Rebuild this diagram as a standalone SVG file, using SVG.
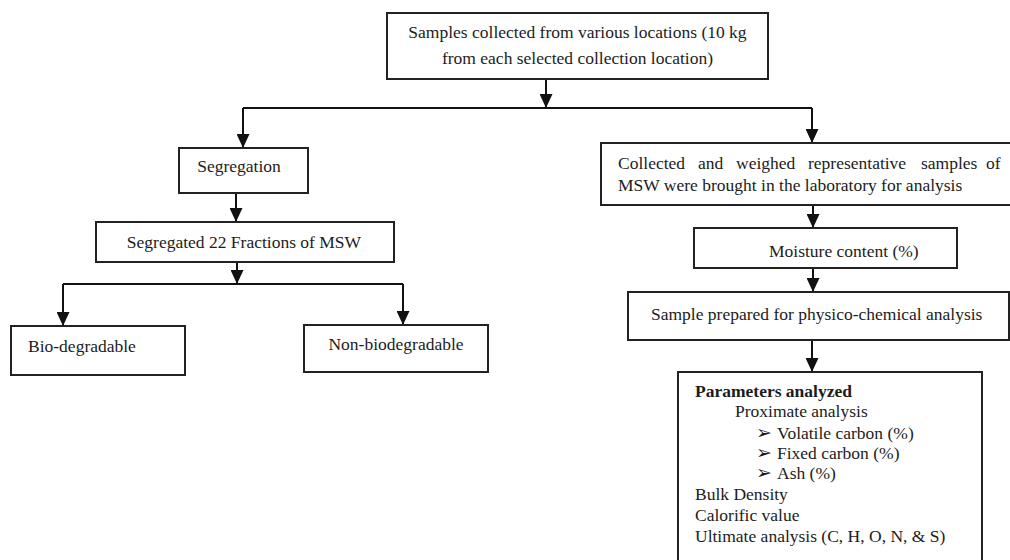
<svg xmlns="http://www.w3.org/2000/svg" width="1010" height="560" viewBox="0 0 1010 560">
  <defs>
    <marker id="arrow" markerUnits="userSpaceOnUse" markerWidth="14" markerHeight="13" refX="14" refY="6.5" orient="auto" viewBox="0 0 14 13">
      <path d="M0,0 L14,6.5 L0,13 z" fill="#111"/>
    </marker>
    <style>
      .box { fill: #fff; stroke: #222; stroke-width: 2; }
      .lbl { font-size: 17.5px; fill: #1c1c1c; }
      .bold { font-weight: bold; }
      .mid { text-anchor: middle; }
      .bullet { font-size: 19px; fill: #1c1c1c; }
      .conn { fill: none; stroke: #111; stroke-width: 2; }
    </style>
  </defs>
  <rect width="1010" height="560" fill="#fff"/>

  <!-- connectors -->
  <g id="connectors">
    <path class="conn" d="M546 79 V108" marker-end="url(#arrow)"/>
    <path class="conn" d="M243 108 H812"/>
    <path class="conn" d="M243 108 V148" marker-end="url(#arrow)"/>
    <path class="conn" d="M812 108 V143" marker-end="url(#arrow)"/>
    <path class="conn" d="M236 193 V222" marker-end="url(#arrow)"/>
    <path class="conn" d="M237 262 V284" marker-end="url(#arrow)"/>
    <path class="conn" d="M63 284 H403"/>
    <path class="conn" d="M63 284 V326" marker-end="url(#arrow)"/>
    <path class="conn" d="M403 284 V325" marker-end="url(#arrow)"/>
    <path class="conn" d="M813 205 V228" marker-end="url(#arrow)"/>
    <path class="conn" d="M813 268 V292" marker-end="url(#arrow)"/>
    <path class="conn" d="M812 340 V372" marker-end="url(#arrow)"/>
  </g>

  <g font-family="Liberation Serif, DejaVu Serif, serif">
    <g id="samples-collected">
      <rect class="box" x="387" y="13" width="381" height="66"/>
      <text class="lbl mid" x="577.5" y="38">Samples collected from various locations (10 kg</text>
      <text class="lbl mid" x="577.5" y="64">from each selected collection location)</text>
    </g>

    <g id="segregation">
      <rect class="box" x="179" y="148" width="129" height="45"/>
      <text class="lbl mid" x="239" y="172">Segregation</text>
    </g>

    <g id="segregated-fractions">
      <rect class="box" x="96" y="222" width="298" height="40"/>
      <text class="lbl mid" x="244" y="248">Segregated 22 Fractions of MSW</text>
    </g>

    <g id="bio-degradable">
      <rect class="box" x="11" y="326" width="174" height="49"/>
      <text class="lbl" x="28" y="352">Bio-degradable</text>
    </g>

    <g id="non-biodegradable">
      <rect class="box" x="304" y="325" width="184" height="47"/>
      <text class="lbl mid" x="396" y="350">Non-biodegradable</text>
    </g>

    <g id="lab-samples">
      <rect class="box" x="601" y="143" width="420" height="62"/>
      <text class="lbl" y="169"><tspan x="618">Collected</tspan><tspan x="698">and</tspan><tspan x="736">weighed</tspan><tspan x="808">representative</tspan><tspan x="921">samples</tspan><tspan x="986">of</tspan></text>
      <text class="lbl" x="618" y="191">MSW were brought in the laboratory for analysis</text>
    </g>

    <g id="moisture">
      <rect class="box" x="694" y="228" width="263" height="40"/>
      <text class="lbl" x="769" y="257">Moisture content (%)</text>
    </g>

    <g id="sample-prepared">
      <rect class="box" x="628" y="292" width="381" height="48"/>
      <text class="lbl" x="651" y="320">Sample prepared for physico-chemical analysis</text>
    </g>

    <g id="parameters">
      <rect class="box" x="678" y="372" width="304" height="200"/>
      <text class="lbl bold" x="695" y="397">Parameters analyzed</text>
      <text class="lbl" x="735" y="417">Proximate analysis</text>
      <text class="bullet" x="756" y="439" font-family="DejaVu Sans, sans-serif">➢</text>
      <text class="lbl" x="777" y="439">Volatile carbon (%)</text>
      <text class="bullet" x="756" y="459" font-family="DejaVu Sans, sans-serif">➢</text>
      <text class="lbl" x="777" y="459">Fixed carbon (%)</text>
      <text class="bullet" x="756" y="479" font-family="DejaVu Sans, sans-serif">➢</text>
      <text class="lbl" x="777" y="479">Ash (%)</text>
      <text class="lbl" x="695" y="500">Bulk Density</text>
      <text class="lbl" x="695" y="521">Calorific value</text>
      <text class="lbl" x="695" y="542">Ultimate analysis (C, H, O, N, &amp; S)</text>
    </g>
  </g>
</svg>
